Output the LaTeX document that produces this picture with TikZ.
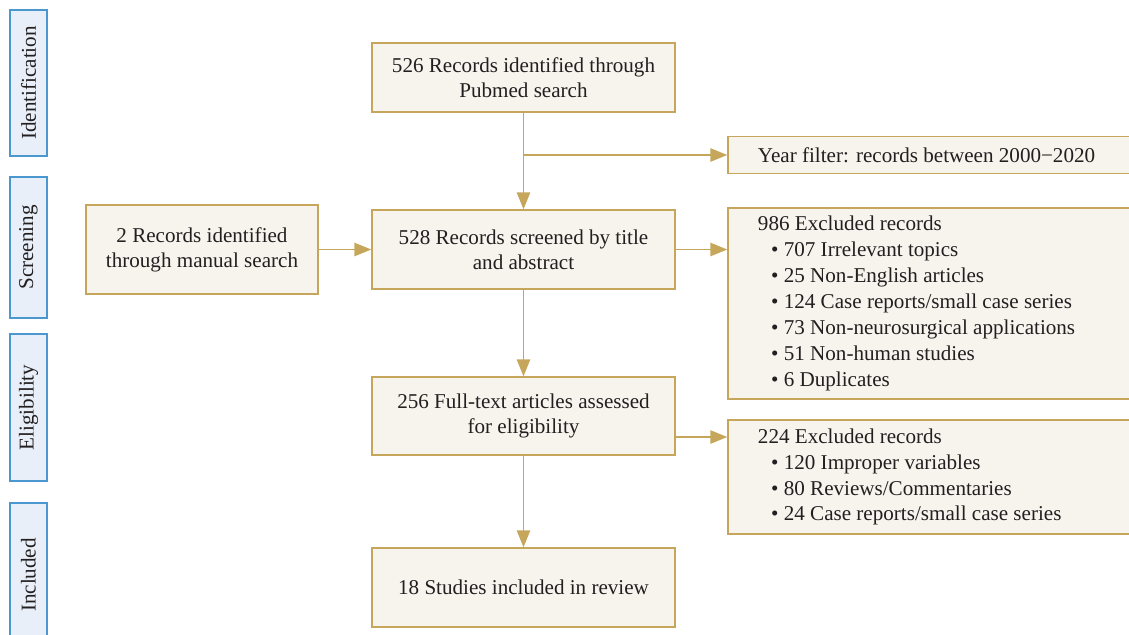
\documentclass[tikz,border=0pt]{standalone}
\usepackage{fontspec}
\setmainfont{Liberation Serif}
\usetikzlibrary{arrows.meta}
\definecolor{gold}{HTML}{C6A65A}
\definecolor{paper}{HTML}{F7F4EE}
\definecolor{stageblue}{HTML}{4A98CF}
\definecolor{stagefill}{HTML}{E9EFF8}
\definecolor{ink}{HTML}{231F20}
\newcommand{\itm}{\hspace*{0.33cm}\textbullet\ }

\begin{document}
\begin{tikzpicture}[x=0.025cm,y=-0.025cm,
    box/.style={shape=rectangle,draw=gold,fill=paper,line width=1pt,text=ink,
      align=center,font=\fontsize{15}{18}\selectfont,inner sep=0pt},
    listbox/.style={box,align=flush left,text width=8.6cm,inner xsep=0.75cm,
      font=\fontsize{15}{18.4}\selectfont},
    stage/.style={shape=rectangle,draw=stageblue,fill=stagefill,line width=1pt,text=ink,
      minimum width=0.925cm,inner sep=0pt,font=\fontsize{15}{18}\selectfont},
    arr/.style={draw=gold,line width=1pt,-{Triangle[length=12pt,width=9.5pt]}}]
  \clip (0,0) rectangle (1129,634);

  % stages on the left
  \node[stage,minimum height=3.65cm] (ident) at (28.5,83) {\rotatebox{90}{Identification}};
  \node[stage,minimum height=3.525cm] (screen) at (28.5,247.5) {\rotatebox{90}{Screening}};
  \node[stage,minimum height=3.675cm] (elig) at (28.5,407.5) {\rotatebox{90}{Eligibility}};
  \node[stage,minimum height=3.6cm] (incl) at (28.5,575) {\rotatebox{90}{Included}};

  % main column
  \node[box,minimum width=7.575cm,minimum height=1.725cm] (pubmed) at (523.5,77.5) {526 Records identified through\\Pubmed search};
  \node[box,minimum width=5.8cm,minimum height=2.225cm] (manual) at (202,249.5) {2 Records identified\\through manual search};
  \node[box,minimum width=7.575cm,minimum height=1.975cm] (screened) at (523.5,249.5) {528 Records screened by title\\and abstract};
  \node[box,minimum width=7.575cm,minimum height=1.95cm] (fulltext) at (523.5,416) {256 Full-text articles assessed\\for eligibility};
  \node[box,minimum width=7.575cm,minimum height=1.975cm] (included) at (523.5,587.5) {18 Studies included in review};

  % right column
  \node[listbox,minimum height=0.925cm] (yearfilt) at (930,155) {Year filter: records between 2000\textminus2020};
  \node[listbox,minimum height=4.775cm] (excl1) at (930,303.5) {986 Excluded records\\
    \itm 707 Irrelevant topics\\
    \itm 25 Non-English articles\\
    \itm 124 Case reports/small case series\\
    \itm 73 Non-neurosurgical applications\\
    \itm 51 Non-human studies\\
    \itm 6 Duplicates};
  \node[listbox,minimum height=2.85cm] (excl2) at (930,477) {224 Excluded records\\
    \itm 120 Improper variables\\
    \itm 80 Reviews/Commentaries\\
    \itm 24 Case reports/small case series};

  \coordinate (branch) at (523.5,155);

  \draw[draw=gold,line width=1pt] (pubmed) -- (branch);
  \draw[arr] (branch) -- (yearfilt);
  \draw[arr] (branch) -- (screened);
  \draw[arr] (manual) -- (screened);
  \draw[arr] (screened.east) -- (screened.east -| excl1.west);
  \draw[arr] (screened) -- (fulltext);
  \draw[arr] ([yshift=-0.525cm]fulltext.east) -- ([yshift=-0.525cm]fulltext.east -| excl2.west);
  \draw[arr] (fulltext) -- (included);
\end{tikzpicture}
\end{document}
